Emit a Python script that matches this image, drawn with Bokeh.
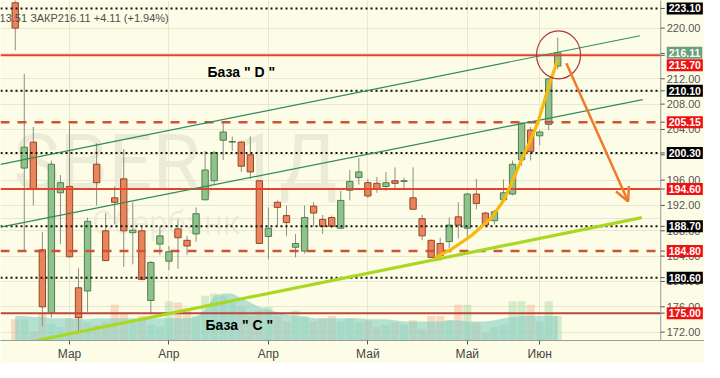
from bokeh.plotting import figure
from bokeh.models import (Range1d, FixedTicker, Label, Arrow, OpenHead, Grid,
                          ColumnDataSource)
from bokeh.embed import file_html
from bokeh.resources import INLINE
from bokeh.core.properties import value

# ---------------- data ----------------
opens = [224.0, 197.9, 202.0, 185.0, 175.0, 194.0, 195.0, 179.0, 178.5, 198.5,
         188.0, 193.2, 196.2, 187.7, 188.0, 177.0, 185.9, 183.2, 188.3, 186.5,
         187.5, 192.9, 195.9, 202.3, 202.0, 202.0, 200.0, 195.9, 187.1, 192.5,
         190.4, 185.4, 184.8, 191.9, 189.8, 190.1, 188.4, 194.4, 196.4, 195.6,
         195.5, 195.0, 195.9, 195.8, 193.2, 189.9, 186.5, 186.0, 186.3, 190.2,
         188.4, 193.8, 190.8, 189.6, 192.9, 193.8, 199.2, 203.9, 203.0, 204.8,
         214.0]
highs = [225.5, 212.8, 204.4, 187.8, 199.1, 196.8, 204.8, 182.1, 190.1, 201.8,
         190.8, 195.0, 200.9, 192.5, 188.7, 183.2, 188.7, 185.6, 189.8, 187.2,
         191.7, 200.6, 200.6, 205.3, 202.9, 202.2, 202.9, 196.0, 191.7, 192.8,
         192.0, 187.5, 192.0, 192.5, 190.5, 190.4, 194.3, 197.6, 199.5, 196.2,
         196.5, 197.3, 198.0, 196.4, 198.0, 190.5, 186.6, 186.9, 190.1, 192.5,
         194.0, 196.2, 191.0, 191.3, 196.1, 199.1, 205.1, 204.4, 203.9, 212.1,
         218.5]
lows = [216.5, 184.8, 192.0, 172.9, 174.3, 185.9, 183.8, 172.2, 175.2, 192.0,
        183.2, 189.0, 182.3, 182.7, 180.2, 175.0, 184.2, 181.8, 182.0, 184.2,
        186.3, 192.8, 195.3, 199.2, 200.6, 197.3, 196.2, 185.9, 183.5, 188.7,
        187.2, 183.8, 184.4, 188.7, 187.5, 188.4, 188.3, 192.8, 195.3, 193.2,
        194.0, 194.3, 194.7, 194.6, 191.3, 186.5, 183.8, 183.3, 185.3, 186.8,
        187.1, 191.4, 188.7, 189.0, 192.5, 193.6, 198.3, 199.1, 201.5, 203.9,
        213.51]
closes = [220.0, 201.2, 194.6, 176.0, 198.5, 195.6, 183.9, 174.3, 189.5, 195.6,
          183.3, 192.5, 188.0, 188.1, 180.3, 183.0, 187.2, 184.7, 186.9, 185.6,
          190.7, 197.6, 200.3, 203.6, 202.1, 198.2, 197.3, 186.0, 188.4, 191.7,
          189.3, 186.0, 190.1, 190.8, 188.7, 188.7, 192.8, 195.8, 197.3, 193.5,
          194.6, 195.6, 195.5, 195.9, 191.4, 187.2, 183.8, 184.1, 188.9, 188.9,
          193.8, 192.3, 188.9, 191.0, 194.0, 198.5, 205.0, 200.5, 203.6, 212.0,
          216.11]
volumes = [47.5, 47.5, 20, 62.5, 37.5, 30, 50, 55, 40, 35,
           42.5, 80, 62.5, 40, 55, 35, 30, 87.5, 85, 72.5,
           55, 100, 105, 100, 85, 75, 55, 67.5, 75, 55,
           42.5, 67.5, 55, 42.5, 50, 55, 42.5, 50, 40, 45,
           30, 35, 40, 35, 45, 25, 55, 55, 45, 80,
           80, 40, 17.5, 30, 35, 87.5, 87.5, 80, 42.5, 87.5,
           55]
volume_ma = [55, 55, 52.5, 52.5, 50, 50, 50, 47.5, 47.5, 50,
             50, 50, 50, 50, 50, 50, 50, 50, 50, 50,
             52.5, 67.5, 100, 105, 105, 95, 85, 75, 70, 62.5,
             57.5, 55, 52.5, 50, 50, 50, 50, 50, 50, 47.5,
             47.5, 47.5, 45, 42.5, 42.5, 42.5, 42.5, 42.5, 45, 45,
             42.5, 42.5, 42.5, 45, 50, 52.5, 55, 55, 55, 55,
             55]
idx = list(range(len(opens)))

month_ticks = [6, 17, 28, 39, 50, 58]
month_labels = ["Мар", "Апр", "Апр", "Май", "Май", "Июн"]
price_ticks = [172, 176, 180, 184, 188, 192, 196, 200, 204, 208, 212, 216, 220]

dotted_levels = [223.10, 210.10, 200.30, 188.70, 180.60]
solid_levels = [215.70, 194.60]
base_levels = [175.00]
dashed_levels = [205.15, 184.80]
last_close = 216.11
info_text = "13.51  ЗАКР216.11  +4.11 (+1.94%)"

channel_upper_x = [-1.63, 69.09]
channel_upper_y = [198.50, 218.80]
channel_lower_x = [-1.63, 69.40]
channel_lower_y = [188.57, 208.72]
support_x = [2.39, 69.30]
support_y = [170.68, 190.08]
curve_x = [46.42, 48.26, 50.43, 52.60, 54.01, 54.99, 55.86, 56.94, 57.81, 58.68, 59.44, 59.98]
curve_y = [183.76, 185.11, 187.22, 189.93, 192.78, 195.79, 198.80, 202.11, 205.11, 209.32, 212.63, 215.04]
arrow_start = (60.95, 214.44)
arrow_end = (67.79, 192.63)
circle_center = (60.09, 215.79)

# ---------------- layout / styling ----------------
BG = "#fdfde7"
GRID = "#e7e9cf"
UP_FILL, UP_LINE = "#8fc28c", "#4f7f4f"
DN_FILL, DN_LINE = "#e8855c", "#984427"
WICK = "#8a8f80"

X0, X1 = -1.63, 76.23          # visible index range (price scale column on the right)
AXIS_X = 71.39                 # where the price scale starts
PX = 9.04                      # screen pixels per index unit
Y0, Y1 = 170.68, 224.36

p = figure(frame_width=704, frame_height=340,
           x_range=Range1d(X0, X1), y_range=Range1d(Y0, Y1),
           y_axis_location=None, output_backend="svg", toolbar_location=None,
           min_border=0, background_fill_color=BG, border_fill_color=BG,
           outline_line_color=None)
p.extra_y_ranges = {"vol": Range1d(0, 760)}

p.xaxis.ticker = FixedTicker(ticks=month_ticks)
p.xaxis.major_label_overrides = {t: l for t, l in zip(month_ticks, month_labels)}
p.xaxis.major_label_text_font = "Liberation Sans"
p.xaxis.major_label_text_font_size = "12px"
p.xaxis.major_label_text_color = "#444444"
p.xaxis.major_tick_out = 4
p.xaxis.major_tick_in = 0
p.xaxis.major_label_standoff = 2
p.xaxis.minor_tick_line_color = None
p.xaxis.axis_line_color = "#9a9a9a"
p.xaxis.major_tick_line_color = "#555555"
p.xgrid.ticker = FixedTicker(ticks=month_ticks)
p.xgrid.grid_line_color = GRID
p.add_layout(Grid(dimension=1, ticker=FixedTicker(ticks=price_ticks),
                  grid_line_color=GRID))

# watermark
p.add_layout(Label(x=-0.22, y=198.8, text="SBER, 1Д", text_font="Roboto",
                   text_font_size="78px", text_color="#000000", text_alpha=0.07,
                   text_baseline="alphabetic", level="image"))
p.add_layout(Label(x=8.46, y=189.3, text="Сбербанк", text_font="Roboto",
                   text_font_size="33px", text_color="#000000", text_alpha=0.07,
                   text_baseline="alphabetic", level="image"))

inc = [c >= o for o, c in zip(opens, closes)]
src = ColumnDataSource(dict(
    x=idx, o=opens, h=highs, l=lows, c=closes,
    top=[max(o, c) for o, c in zip(opens, closes)],
    bottom=[min(o, c) for o, c in zip(opens, closes)],
    fill=[UP_FILL if u else DN_FILL for u in inc],
    line=[UP_LINE if u else DN_LINE for u in inc],
    vcol=["#a6d8a4" if u else "#f2b08c" for u in inc],
    vol=volumes, vma=volume_ma))

# volume
p.vbar(x="x", width=0.9, top="vol", bottom=0, fill_color="vcol", fill_alpha=0.45,
       line_color=None, source=src, y_range_name="vol")
p.varea(x="x", y1=0, y2="vma", fill_color="#86cfc6", fill_alpha=0.6,
        source=src, y_range_name="vol")

# candles
p.segment(x0="x", y0="h", x1="x", y1="l", line_color=WICK, line_width=1, source=src)
p.vbar(x="x", width=0.7, top="top", bottom="bottom", fill_color="fill",
       line_color="line", line_width=1, source=src)

# horizontal levels (end at the price scale)
def levels(vals, **kw):
    p.segment(x0=[X0] * len(vals), y0=vals, x1=[AXIS_X] * len(vals), y1=vals, **kw)

levels(dotted_levels, line_color="#111111", line_width=2, line_dash="2 3")
levels(solid_levels, line_color="#e5432b", line_width=2)
levels(base_levels, line_color="#b8493b", line_width=2)
levels(dashed_levels, line_color="#cf5236", line_width=2.5, line_dash="9 8")

# trend lines and drawings
p.line(channel_upper_x, channel_upper_y, line_color="#2f8d55", line_width=1.2)
p.line(channel_lower_x, channel_lower_y, line_color="#2f8d55", line_width=1.2)
p.line(support_x, support_y, line_color="#a9d822", line_width=3.2)
p.line(curve_x, curve_y, line_color="#f6b90c", line_width=3.2)
p.ellipse(x=[circle_center[0]], y=[circle_center[1]], width=44, height=48,
          width_units="screen", height_units="screen", fill_alpha=0,
          line_color="#a83a3a", line_width=1.2)

# price scale column
p.quad(left=[AXIS_X], right=[X1 + 1], bottom=[Y0 - 1], top=[Y1 + 1],
       fill_color=BG, line_color=None)
p.segment(x0=[AXIS_X], y0=[Y0 - 1], x1=[AXIS_X], y1=[Y1 + 1],
          line_color="#9a9a9a", line_width=1)
all_marks = price_ticks + dotted_levels + solid_levels + base_levels + dashed_levels
p.segment(x0=[AXIS_X] * len(all_marks), y0=all_marks,
          x1=[AXIS_X + 4 / PX] * len(all_marks), y1=all_marks,
          line_color="#555555", line_width=1)
p.text(x=[AXIS_X + 6 / PX] * len(price_ticks), y=price_ticks,
       text=[f"{t:.2f}" for t in price_ticks], text_font=value("Liberation Sans"),
       text_font_size="11px", text_color="#555555", text_baseline="middle")

# arrow
p.add_layout(Arrow(x_start=arrow_start[0], y_start=arrow_start[1],
                   x_end=arrow_end[0], y_end=arrow_end[1],
                   line_color="#f07a2a", line_width=2.5,
                   end=OpenHead(size=14, line_color="#f07a2a", line_width=2.5)))

# texts
p.add_layout(Label(x=21.26, y=213.08, text='База  " D "', text_font="Liberation Sans",
                   text_font_size="14px", text_font_style="bold", text_color="#000000",
                   text_baseline="middle"))
p.add_layout(Label(x=21.04, y=173.08, text='База  " C "', text_font="Liberation Sans",
                   text_font_size="14px", text_font_style="bold", text_color="#000000",
                   text_baseline="middle"))
p.add_layout(Label(x=-1.735, y=221.65, text=info_text, text_font="Liberation Sans",
                   text_font_size="11px", text_color="#4d4d4d", text_baseline="middle"))

# coloured price labels on the scale
def axis_label(price, bg, y_off=0):
    p.add_layout(Label(x=AXIS_X + 6 / PX, y=price, y_offset=y_off, text=f"{price:.2f}",
                       text_font="Liberation Sans", text_font_size="10.5px",
                       text_font_style="bold", text_color="#ffffff",
                       text_baseline="middle", background_fill_color=bg,
                       padding=2))

for lv in dotted_levels:
    axis_label(lv, "#000000")
for lv in dashed_levels + solid_levels + base_levels:
    axis_label(lv, "#f01212", -10 if lv == 215.70 else 0)
axis_label(last_close, "#6b9f7b")

open("out.html", "w").write(file_html(p, INLINE))
